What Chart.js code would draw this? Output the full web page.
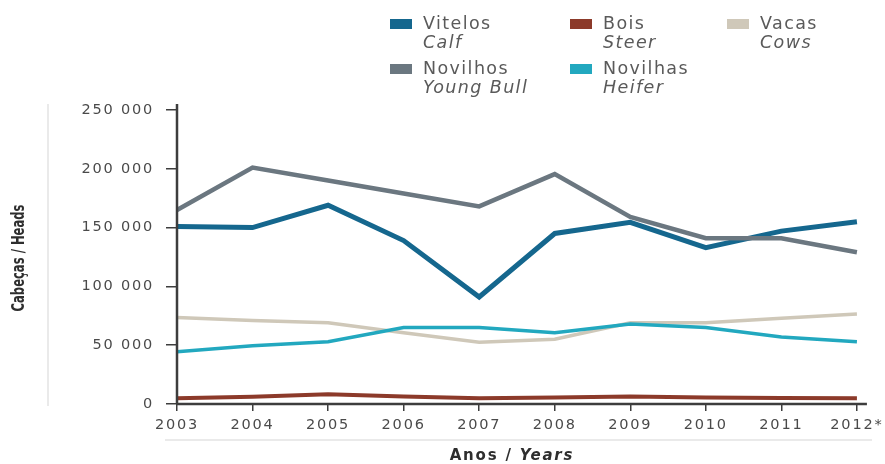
<!DOCTYPE html>
<html>
<head>
<meta charset="utf-8">
<script src="https://cdn.jsdelivr.net/npm/chart.js@4"></script>
<style>
  html, body { margin: 0; padding: 0; background: #fff; }
  #wrap { position: relative; width: 885px; height: 464px; overflow: hidden; }
  #chart { position: absolute; left: 0; top: 0; }
  .leg { position: absolute; font-family: "DejaVu Sans", sans-serif; font-size: 17.5px; color: #5a5a5a; line-height: 19px; letter-spacing: 1.4px; }
  .leg .sw { position: absolute; left: 0; top: 5px; width: 22px; height: 10px; }
  .leg .tx { position: absolute; left: 33px; top: 0; white-space: nowrap; }
  .leg .tx i { display: block; }
</style>
</head>
<body>
<div id="wrap">
  <canvas id="chart" width="885" height="464"></canvas>
  <div id="legend"></div>
</div>
<script>
// Years on the horizontal axis (2012 is provisional)
const years = ['2003', '2004', '2005', '2006', '2007', '2008', '2009', '2010', '2011', '2012*'];

// Head counts per category
const vitelos   = [151000, 150000, 169000, 139000, 91000, 145000, 154500, 133000, 147000, 155000];
const bois      = [4800, 6200, 8200, 6400, 4800, 5500, 6400, 5600, 5000, 4800];
const vacas     = [73500, 71000, 69000, 60500, 52500, 55000, 69000, 69000, 73000, 76500];
const novilhos  = [165000, 201000, 190000, 179000, 168000, 195500, 159000, 141000, 141000, 129000];
const novilhas  = [44500, 49500, 53000, 65000, 65000, 60500, 68000, 65000, 57000, 53000];

// Vertical axis ticks
const yTicks = [0, 50000, 100000, 150000, 200000, 250000];
const yTickLabels = ['0', '50 000', '100 000', '150 000', '200 000', '250 000'];

// Legend entries: Portuguese name, English name
const seriesNamesPt = ['Vitelos', 'Bois', 'Vacas', 'Novilhos', 'Novilhas'];
const seriesNamesEn = ['Calf', 'Steer', 'Cows', 'Young Bull', 'Heifer'];

const colors = ['#15678e', '#8c3a2a', '#cfc8b9', '#6b7780', '#22a8bf'];
const widths = [5, 4, 3.5, 4.5, 3.5];
const seriesData = [vitelos, bois, vacas, novilhos, novilhas];

// Legend in HTML (two-line labels, second line italic)
const legendPos = [[390, 14], [570, 14], [727, 14], [390, 59], [570, 59]];
const legendEl = document.getElementById('legend');
seriesNamesPt.forEach((name, i) => {
  const d = document.createElement('div');
  d.className = 'leg';
  d.style.left = legendPos[i][0] + 'px';
  d.style.top = legendPos[i][1] + 'px';
  d.innerHTML = '<div class="sw" style="background:' + colors[i] + '"></div>' +
    '<div class="tx">' + name + '<i>' + seriesNamesEn[i] + '</i></div>';
  legendEl.appendChild(d);
});

// Wide tracking for all canvas text
const spacing = {
  id: 'spacing',
  beforeDraw(chart) { chart.ctx.letterSpacing = '1.8px'; }
};

// Axis titles, frame lines and axis-line overhangs
const decor = {
  id: 'decor',
  afterDraw(chart) {
    const ctx = chart.ctx;
    const a = chart.chartArea;
    ctx.save();
    // thin light frame lines
    ctx.strokeStyle = '#e3e3e3';
    ctx.lineWidth = 1.5;
    ctx.beginPath();
    ctx.moveTo(48, 104); ctx.lineTo(48, 406);
    ctx.moveTo(165, 440); ctx.lineTo(872, 440);
    ctx.stroke();
    // axis lines running a little past the plot
    ctx.strokeStyle = '#3d3d3d';
    ctx.lineWidth = 2.5;
    ctx.beginPath();
    ctx.moveTo(a.left, a.bottom); ctx.lineTo(a.right + 10, a.bottom);
    ctx.moveTo(a.left, a.bottom); ctx.lineTo(a.left, a.top - 6);
    ctx.stroke();
    // y title, condensed bold
    ctx.fillStyle = '#2e2e2e';
    ctx.letterSpacing = '0px';
    ctx.font = 'bold 17px "DejaVu Sans", sans-serif';
    ctx.textAlign = 'center';
    ctx.textBaseline = 'middle';
    ctx.translate(20, 258);
    ctx.rotate(-Math.PI / 2);
    const tw = ctx.measureText('Cabeças / Heads').width;
    ctx.scale(107 / tw, 1);
    ctx.fillText('Cabeças / Heads', 0, 0);
    ctx.restore();
    // x title
    ctx.save();
    ctx.fillStyle = '#2e2e2e';
    ctx.textBaseline = 'middle';
    ctx.letterSpacing = '1.8px';
    const p1 = 'Anos / ';
    ctx.font = 'bold italic 15px "DejaVu Sans", sans-serif';
    const w2 = ctx.measureText('Years').width;
    ctx.font = 'bold 15px "DejaVu Sans", sans-serif';
    const w1 = ctx.measureText(p1).width;
    const x0 = 512 - (w1 + w2) / 2;
    ctx.fillText(p1, x0, 456);
    ctx.font = 'bold italic 15px "DejaVu Sans", sans-serif';
    ctx.fillText('Years', x0 + w1, 456);
    ctx.restore();
  }
};

new Chart(document.getElementById('chart'), {
  type: 'line',
  data: {
    labels: years,
    datasets: seriesNamesPt.map((name, i) => ({
      label: name,
      data: seriesData[i],
      borderColor: colors[i],
      backgroundColor: colors[i],
      borderWidth: widths[i],
      pointRadius: 0,
      tension: 0,
      fill: false
    })).reverse()
  },
  options: {
    responsive: false,
    animation: false,
    layout: { padding: { top: 110, left: 0, right: 28, bottom: 0 } },
    plugins: { legend: { display: false }, tooltip: { enabled: false } },
    scales: {
      x: {
        offset: false,
        grid: { drawOnChartArea: false, color: '#3d3d3d', tickLength: 7, lineWidth: 1.5 },
        border: { display: false },
        ticks: {
          color: '#4a4a4a',
          font: { family: '"DejaVu Sans", sans-serif', size: 14.5 },
          padding: 6,
          maxRotation: 0,
          autoSkip: false
        },
        afterFit(scale) { scale.height = 60; }
      },
      y: {
        min: 0,
        max: 250000,
        afterBuildTicks(scale) { scale.ticks = yTicks.map(v => ({ value: v })); },
        grid: { drawOnChartArea: false, color: '#3d3d3d', tickLength: 11, lineWidth: 1.5 },
        border: { display: false },
        ticks: {
          color: '#4a4a4a',
          font: { family: '"DejaVu Sans", sans-serif', size: 14.5 },
          padding: 12,
          callback: (v) => yTickLabels[yTicks.indexOf(v)]
        },
        afterFit(scale) { scale.width = 177; }
      }
    }
  },
  plugins: [spacing, decor]
});
</script>
</body>
</html>
